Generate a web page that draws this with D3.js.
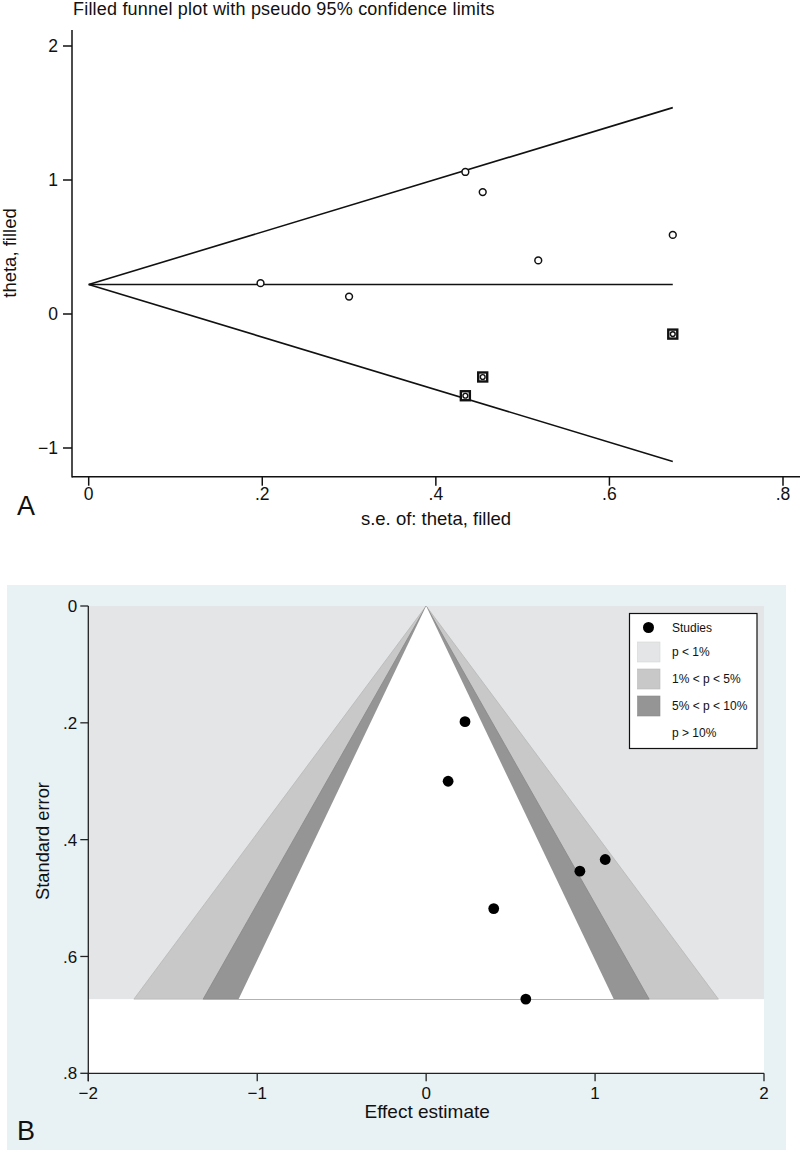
<!DOCTYPE html>
<html>
<head>
<meta charset="utf-8">
<script src="https://cdn.jsdelivr.net/npm/d3@7"></script>
<style>
  html, body { margin: 0; padding: 0; background: #ffffff; }
  svg { display: block; }
  text { font-family: "Liberation Sans", Arial, Helvetica, sans-serif; fill: #111; }
</style>
</head>
<body>
<svg id="chart" width="800" height="1152"></svg>
<script>
// ---------- Data ----------
// Observed studies
const studySe    = [0.198, 0.300, 0.434, 0.454, 0.518, 0.673];
const studyTheta = [0.23, 0.13, 1.06, 0.91, 0.40, 0.59];
// Imputed (filled) studies
const filledSe    = [0.434, 0.454, 0.673];
const filledTheta = [-0.61, -0.47, -0.15];
// Panel A funnel lines (pseudo 95% limits) and pooled estimate
const funnelSe    = [0, 0.673];
const funnelUpper = [0.22, 1.54];
const funnelLower = [0.22, -1.10];
const pooledTheta = [0.22, 0.22];
// Panel A ticks
const aXTicks = [0, 0.2, 0.4, 0.6, 0.8];
const aXTickLabels = ["0", ".2", ".4", ".6", ".8"];
const aYTicks = [-1, 0, 1, 2];
const aYTickLabels = ["\u22121", "0", "1", "2"];
// Panel B contour-enhanced funnel: half-widths at the largest s.e.
const contourMaxSe = 0.673;
const contourLabels = ["p < 1%", "1% < p < 5%", "5% < p < 10%", "p > 10%"];
const contourHalfWidth = [null, 1.73, 1.32, 1.11]; // outer edge of each band
const contourColors = ["#e4e5e6", "#c8c8c8", "#959595", "#ffffff"];
// Panel B ticks
const bXTicks = [-2, -1, 0, 1, 2];
const bXTickLabels = ["\u22122", "\u22121", "0", "1", "2"];
const bYTicks = [0, 0.2, 0.4, 0.6, 0.8];
const bYTickLabels = ["0", ".2", ".4", ".6", ".8"];

const svg = d3.select("#chart");

// ================= Panel A =================
const ax = d3.scaleLinear().domain([0, 0.8]).range([88.7, 783]);
const ay = d3.scaleLinear().domain([-1, 2]).range([448, 46]);
const aAxisY = 476.7, aAxisX = 72;

const gA = svg.append("g");

gA.append("text")
  .attr("x", 73).attr("y", 15)
  .attr("font-size", 18).attr("letter-spacing", 0.2)
  .text("Filled funnel plot with pseudo 95% confidence limits");

// axis lines
gA.append("line").attr("x1", aAxisX).attr("x2", aAxisX).attr("y1", 30).attr("y2", aAxisY + 0.75)
  .attr("stroke", "#111").attr("stroke-width", 1.5);
gA.append("line").attr("x1", aAxisX).attr("x2", 800).attr("y1", aAxisY).attr("y2", aAxisY)
  .attr("stroke", "#111").attr("stroke-width", 1.5);

// y ticks
aYTicks.forEach((v, i) => {
  gA.append("line").attr("x1", aAxisX - 9).attr("x2", aAxisX).attr("y1", ay(v)).attr("y2", ay(v))
    .attr("stroke", "#111").attr("stroke-width", 1.5);
  gA.append("text").attr("x", aAxisX - 14).attr("y", ay(v)).attr("dy", "0.36em")
    .attr("text-anchor", "end").attr("font-size", 17.5).text(aYTickLabels[i]);
});
// x ticks
aXTicks.forEach((v, i) => {
  gA.append("line").attr("x1", ax(v)).attr("x2", ax(v)).attr("y1", aAxisY).attr("y2", aAxisY + 9)
    .attr("stroke", "#111").attr("stroke-width", 1.5);
  gA.append("text").attr("x", ax(v)).attr("y", 500)
    .attr("text-anchor", "middle").attr("font-size", 17.5).text(aXTickLabels[i]);
});
gA.append("text").attr("x", 436).attr("y", 525).attr("text-anchor", "middle")
  .attr("font-size", 18.5).text("s.e. of: theta, filled");
gA.append("text").attr("transform", "translate(16,253) rotate(-90)")
  .attr("text-anchor", "middle").attr("font-size", 18.5).text("theta, filled");
gA.append("text").attr("x", 17).attr("y", 515).attr("font-size", 27).text("A");

// funnel lines
const lineA = d3.line().x(d => ax(d[0])).y(d => ay(d[1]));
[funnelUpper, funnelLower, pooledTheta].forEach(arr => {
  gA.append("path").datum(funnelSe.map((s, i) => [s, arr[i]]))
    .attr("d", lineA).attr("fill", "none").attr("stroke", "#111").attr("stroke-width", 1.6);
});
// observed studies: open circles
gA.selectAll("circle.obs").data(studySe.map((s, i) => [s, studyTheta[i]])).enter()
  .append("circle").attr("class", "obs")
  .attr("cx", d => ax(d[0])).attr("cy", d => ay(d[1])).attr("r", 3.4)
  .attr("fill", "#fff").attr("stroke", "#111").attr("stroke-width", 1.5);
// filled studies: square + circle
const filledData = filledSe.map((s, i) => [s, filledTheta[i]]);
gA.selectAll("rect.fill").data(filledData).enter()
  .append("rect").attr("class", "fill")
  .attr("x", d => ax(d[0]) - 4.5).attr("y", d => ay(d[1]) - 4.5)
  .attr("width", 9).attr("height", 9)
  .attr("fill", "#fff").attr("stroke", "#111").attr("stroke-width", 2.4);
gA.selectAll("circle.fillc").data(filledData).enter()
  .append("circle").attr("class", "fillc")
  .attr("cx", d => ax(d[0])).attr("cy", d => ay(d[1])).attr("r", 2.4)
  .attr("fill", "#fff").attr("stroke", "#111").attr("stroke-width", 1.4);

// ================= Panel B =================
const bx = d3.scaleLinear().domain([-2, 2]).range([88.3, 764]);
const by = d3.scaleLinear().domain([0, 0.8]).range([606, 1073.3]);

const gB = svg.append("g");
gB.append("rect").attr("x", 7).attr("y", 585).attr("width", 779).attr("height", 565)
  .attr("fill", "#e8f2f5");
// plot region white
gB.append("rect").attr("x", bx(-2)).attr("y", by(0)).attr("width", bx(2) - bx(-2)).attr("height", by(0.8) - by(0))
  .attr("fill", "#ffffff");
// p < 1% background band
gB.append("rect").attr("x", bx(-2)).attr("y", by(0)).attr("width", bx(2) - bx(-2))
  .attr("height", by(contourMaxSe) - by(0)).attr("fill", contourColors[0]);
// contour wedges
for (let k = 1; k < contourHalfWidth.length; k++) {
  const w = contourHalfWidth[k];
  const pts = [[0, 0], [w, contourMaxSe], [-w, contourMaxSe]];
  gB.append("path")
    .attr("d", "M" + pts.map(p => bx(p[0]) + "," + by(p[1])).join("L") + "Z")
    .attr("fill", contourColors[k])
    .attr("stroke", k < 3 ? d3.color(contourColors[k]).darker(0.25) : "none")
    .attr("stroke-width", 0.8);
}
// axes
gB.append("line").attr("x1", bx(-2)).attr("x2", bx(-2)).attr("y1", by(0)).attr("y2", by(0.8) + 8)
  .attr("stroke", "#222").attr("stroke-width", 1.3);
gB.append("line").attr("x1", bx(-2)).attr("x2", bx(2)).attr("y1", by(0.8)).attr("y2", by(0.8))
  .attr("stroke", "#222").attr("stroke-width", 1.3);
bYTicks.forEach((v, i) => {
  gB.append("line").attr("x1", bx(-2) - 8).attr("x2", bx(-2)).attr("y1", by(v)).attr("y2", by(v))
    .attr("stroke", "#222").attr("stroke-width", 1.3);
  gB.append("text").attr("x", bx(-2) - 11).attr("y", by(v)).attr("dy", "0.36em")
    .attr("text-anchor", "end").attr("font-size", 17).text(bYTickLabels[i]);
});
bXTicks.forEach((v, i) => {
  gB.append("line").attr("x1", bx(v)).attr("x2", bx(v)).attr("y1", by(0.8)).attr("y2", by(0.8) + 8)
    .attr("stroke", "#222").attr("stroke-width", 1.3);
  gB.append("text").attr("x", bx(v)).attr("y", 1099)
    .attr("text-anchor", "middle").attr("font-size", 17).text(bXTickLabels[i]);
});
gB.append("text").attr("x", bx(0) + 1).attr("y", 1118).attr("text-anchor", "middle")
  .attr("font-size", 19).text("Effect estimate");
gB.append("text").attr("transform", "translate(48.5,841) rotate(-90)")
  .attr("text-anchor", "middle").attr("font-size", 18.3).text("Standard error");
gB.append("text").attr("x", 17).attr("y", 1140).attr("font-size", 27).text("B");

// studies
gB.selectAll("circle.st").data(studySe.map((s, i) => [studyTheta[i], s])).enter()
  .append("circle").attr("class", "st")
  .attr("cx", d => bx(d[0])).attr("cy", d => by(d[1])).attr("r", 5.4).attr("fill", "#000");

// legend
const lg = gB.append("g");
lg.append("rect").attr("x", 629.5).attr("y", 613.5).attr("width", 127.5).attr("height", 135)
  .attr("fill", "#fff").attr("stroke", "#111").attr("stroke-width", 1.2);
const rowY = [627.5, 652, 679, 706, 733];
lg.append("circle").attr("cx", 648.5).attr("cy", rowY[0]).attr("r", 5.5).attr("fill", "#000");
lg.append("text").attr("x", 672).attr("y", rowY[0]).attr("dy", "0.36em").attr("font-size", 12).text("Studies");
contourLabels.forEach((lab, i) => {
  lg.append("rect").attr("x", 637.5).attr("y", rowY[i + 1] - 10).attr("width", 22.5).attr("height", 20)
    .attr("fill", contourColors[i])
    .attr("stroke", i < 3 ? d3.color(contourColors[i]).darker(0.2) : "none").attr("stroke-width", 0.6);
  lg.append("text").attr("x", 672).attr("y", rowY[i + 1]).attr("dy", "0.36em")
    .attr("font-size", 12).text(lab);
});
</script>
</body>
</html>
